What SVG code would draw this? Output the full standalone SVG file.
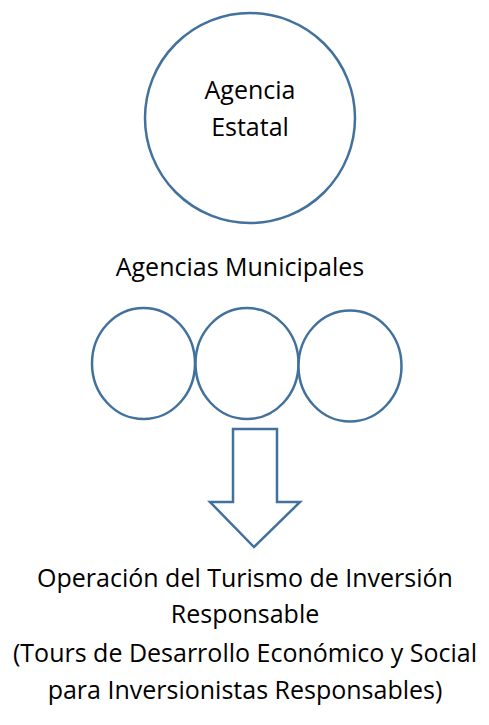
<svg xmlns="http://www.w3.org/2000/svg" width="489" height="725" viewBox="0 0 489 725">
<style>
.s{fill:#fff;stroke:#41719c;stroke-width:2.5}
.t{font-family:"Open Sans","Liberation Sans",sans-serif;font-size:25px;fill:#000;text-anchor:middle}
</style>
<rect width="489" height="725" fill="#fff"/>
<g id="agencia-estatal">
<circle class="s" cx="250" cy="118" r="105"/>
<text class="t" x="250" y="99">Agencia</text>
<text class="t" x="250" y="136">Estatal</text>
</g>
<g id="agencias-municipales-label">
<text class="t" x="240" y="276">Agencias Municipales</text>
</g>
<g id="municipal-1"><ellipse class="s" cx="143.5" cy="363.5" rx="51.5" ry="55.5"/></g>
<g id="municipal-2"><ellipse class="s" cx="247" cy="363.5" rx="51.5" ry="55.5"/></g>
<g id="municipal-3"><ellipse class="s" cx="350" cy="366" rx="51.5" ry="55.5"/></g>
<g id="connectors">
<path class="s" d="M233,429 H277 V502 H300 L254,547 L210,502 H233 Z"/>
</g>
<g id="operacion">
<text class="t" x="245" y="587">Operación del Turismo de Inversión</text>
<text class="t" x="245" y="623">Responsable</text>
</g>
<g id="tours">
<text class="t" x="245" y="662">(Tours de Desarrollo Económico y Social</text>
<text class="t" x="245" y="699">para Inversionistas Responsables)</text>
</g>
</svg>
